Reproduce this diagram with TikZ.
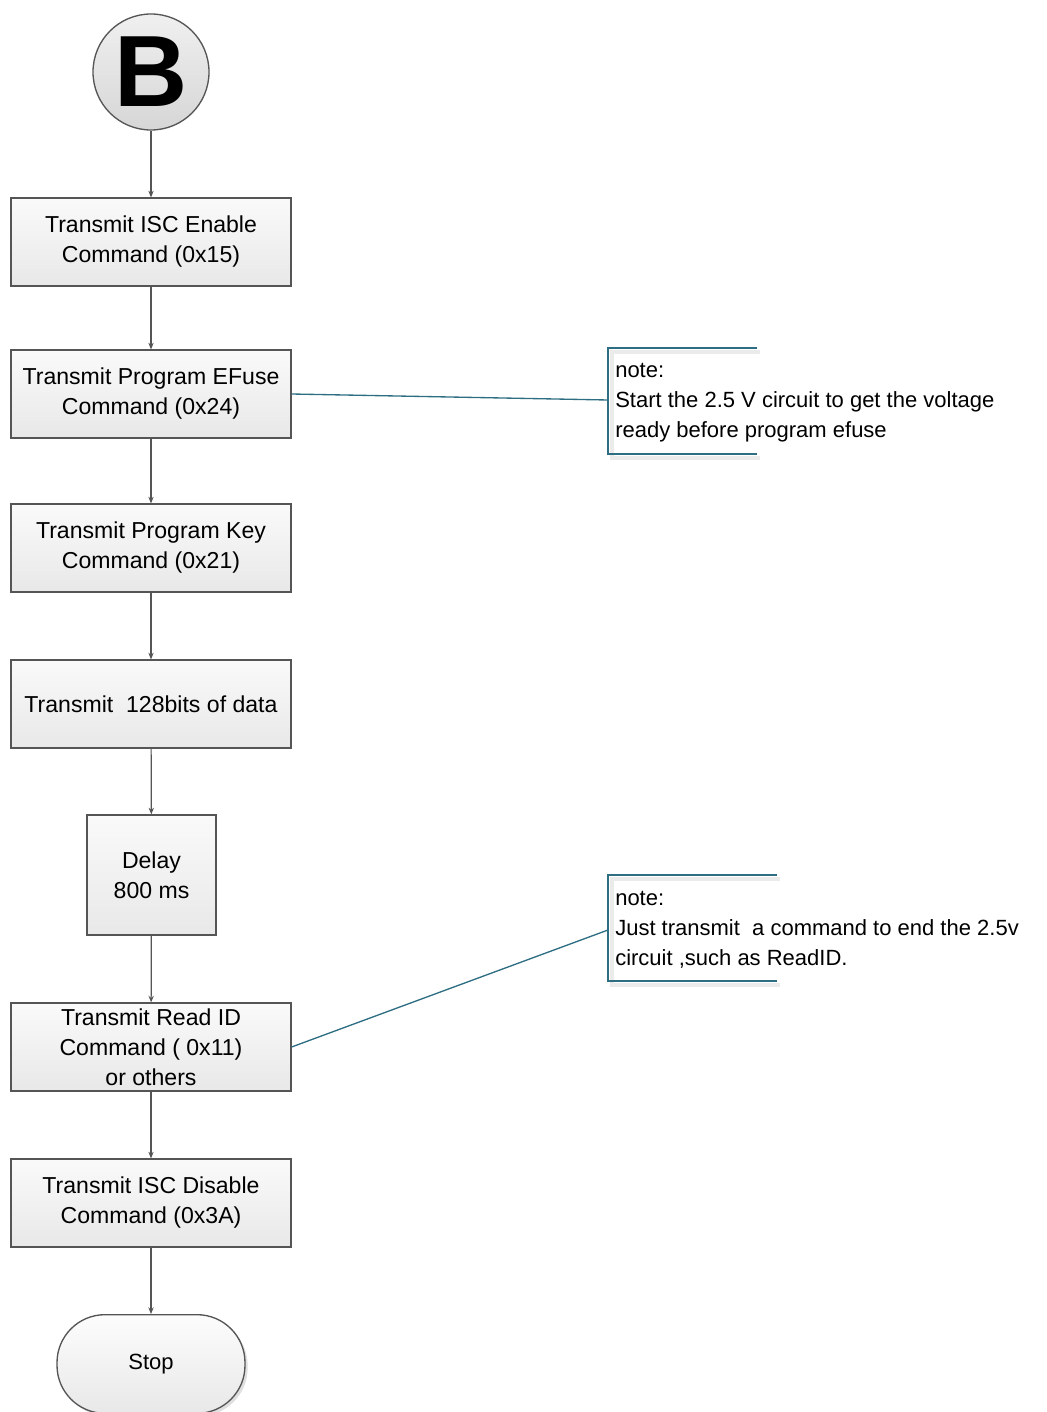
\documentclass[tikz,border=0pt]{standalone}
\usepackage{fontspec}
\setmainfont{Liberation Sans}
\usetikzlibrary{arrows.meta,shadows}
\definecolor{edge}{RGB}{85,85,85}
\definecolor{teal}{RGB}{46,110,130}
\begin{document}
\begin{tikzpicture}[x=0.75pt,y=-0.75pt,
  font=\fontsize{16.5pt}{22.5pt}\selectfont,
  procbox/.style={draw=edge,line width=0.9pt,top color=white!98!black,bottom color=white!91!black,
    minimum width=210pt,minimum height=66pt,align=center,inner sep=2pt,
    font=\fontsize{17.3pt}{22.5pt}\selectfont},
  flow/.style={draw=edge,line width=0.9pt,-{Stealth[length=5pt,width=4pt]}},
  notelink/.style={draw=teal,line width=1pt},
  notebr/.style={draw=teal,line width=1.4pt},
  brshadow/.style={draw=black,opacity=0.08,line width=2.5pt},
  notetext/.style={anchor=west,align=left,inner sep=0pt}]
\useasboundingbox (0,0) rectangle (1046,1412);
\begin{scope}
\clip (0,0) rectangle (1046,1412);
% start circle
\node[circle,draw=edge,line width=1pt,top color=white!94!black,bottom color=white!84!black,
  minimum size=87pt,inner sep=0pt,font=\fontsize{76pt}{76pt}\selectfont\bfseries] (B) at (151,72) {B};
% process boxes
\node[procbox] (p1) at (151,242) {Transmit ISC Enable\\Command (0x15)};
\node[procbox] (p2) at (151,394) {Transmit Program EFuse\\Command (0x24)};
\node[procbox] (p3) at (151,548) {Transmit Program Key\\Command (0x21)};
\node[procbox] (p4) at (151,704) {Transmit\ \ 128bits of data};
\node[procbox,minimum width=96.75pt,minimum height=90pt] (p5) at (151.5,875) {Delay\\800 ms};
\node[procbox] (p6) at (151,1047) {Transmit Read ID\\Command ( 0x11)\\or others};
\node[procbox] (p7) at (151,1203) {Transmit ISC Disable\\Command (0x3A)};
\node[draw=edge,line width=1pt,top color=white!99!black,bottom color=white!91!black,
  rounded corners=36pt,minimum width=141pt,minimum height=74pt,
  drop shadow={shadow xshift=2pt,shadow yshift=-2pt,opacity=0.25}] (stop) at (151,1364) {Stop};
% flow connectors
\draw[flow] (B) -- (p1);
\draw[flow] (p1) -- (p2);
\draw[flow] (p2) -- (p3);
\draw[flow] (p3) -- (p4);
\draw[flow] (p4) -- (p5);
\draw[flow] (p5) -- (p6);
\draw[flow] (p6) -- (p7);
\draw[flow] (p7) -- (stop);
\end{scope}
% note 1
\draw[brshadow] (760,352) -- (612,352) -- (612,458) -- (760,458);
\draw[notebr] (757,348) -- (608,348) -- (608,454) -- (757,454);
\coordinate (n1) at (608,400);
\node[notetext] (note1) at (615,403) {note:\\Start the 2.5 V circuit to get the voltage\\ready before program efuse};
\draw[notelink] (p2.east) -- (n1);
% note 2
\draw[brshadow] (780,879) -- (612,879) -- (612,985) -- (780,985);
\draw[notebr] (777,875) -- (608,875) -- (608,981) -- (777,981);
\coordinate (n2) at (608,930);
\node[notetext] (note2) at (615,930) {note:\\Just transmit\ \ a command to end the 2.5v\\circuit ,such as ReadID.};
\draw[notelink] (p6.east) -- (n2);
\end{tikzpicture}
\end{document}
